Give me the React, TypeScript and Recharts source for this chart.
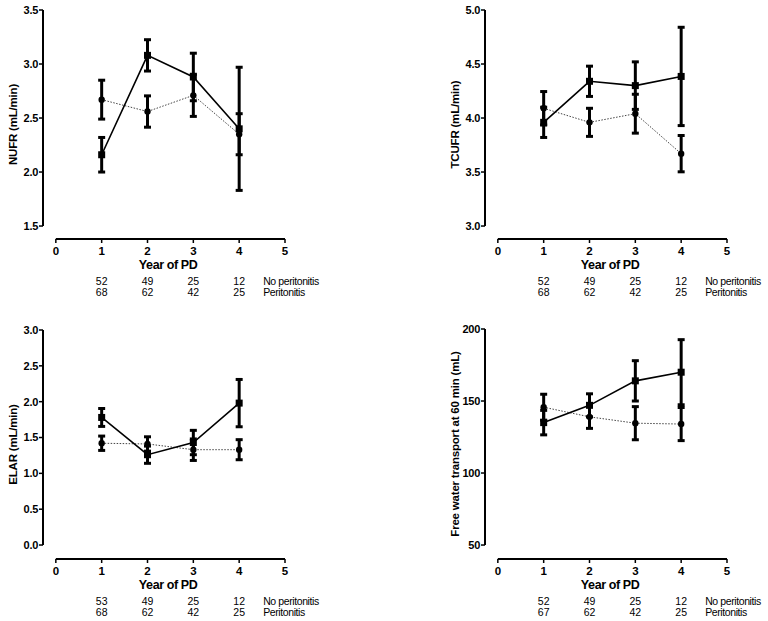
import { LineChart, Line, XAxis, YAxis, ErrorBar, ReferenceLine } from "recharts";

const FONT = "Liberation Sans, Arial, Helvetica, sans-serif";

// x axis: years, with a small gap left of 0 (offset axes)
const years = [1, 2, 3, 4];
const xTicks = [0, 1, 2, 3, 4, 5];
const X_MIN = -0.28;

// NUFR (mL/min)
const nufrSolid = [2.16, 3.08, 2.88, 2.4];
const nufrSolidErr = [0.16, 0.145, 0.22, 0.57];
const nufrDotted = [2.67, 2.56, 2.71, 2.35];
const nufrDottedErr = [0.18, 0.145, 0.195, 0.19];

// TCUFR (mL/min)
const tcufrSolid = [3.96, 4.34, 4.3, 4.385];
const tcufrSolidErr = [0.14, 0.14, 0.22, 0.455];
const tcufrDotted = [4.09, 3.96, 4.04, 3.67];
const tcufrDottedErr = [0.155, 0.13, 0.18, 0.168];

// ELAR (mL/min)
const elarSolid = [1.78, 1.26, 1.43, 1.98];
const elarSolidErr = [0.125, 0.12, 0.17, 0.33];
const elarDotted = [1.42, 1.41, 1.33, 1.33];
const elarDottedErr = [0.1, 0.1, 0.15, 0.14];

// Free water transport at 60 min (mL)
const fwtSolid = [135, 147, 164, 170];
const fwtSolidErr = [8.5, 8, 14, 22.6];
const fwtDotted = [145.7, 139, 134.6, 134];
const fwtDottedErr = [9, 8, 11.5, 11.5];

// patients at risk
const noPeritCounts = [52, 49, 25, 12];
const peritCounts = [68, 62, 42, 25];
const noPeritCountsElar = [53, 49, 25, 12];
const peritCountsFwt = [67, 62, 42, 25];

const squareDot = (p: any) => (
  <rect key={`s-${p.index}`} x={p.cx - 3.5} y={p.cy - 3.5} width={7} height={7} fill="#000" />
);
const circleDot = (p: any) => (
  <circle key={`c-${p.index}`} cx={p.cx} cy={p.cy} r={3.2} fill="#000" />
);

const renderXTick = (p: any, noPer: number[], per: number[]) => {
  const v = p.payload.value;
  const i = v - 1;
  const txt = { fontFamily: FONT, fill: "#000" };
  return (
    <g>
      <text x={p.x} y={p.y + 9.5} textAnchor="middle" fontSize={11.5} fontWeight="bold" {...txt}>
        {v}
      </text>
      {i >= 0 && i < 4 && (
        <>
          <text x={p.x} y={p.y + 40} textAnchor="middle" fontSize={10.5} {...txt}>
            {noPer[i]}
          </text>
          <text x={p.x} y={p.y + 51} textAnchor="middle" fontSize={10.5} {...txt}>
            {per[i]}
          </text>
        </>
      )}
      {v === 4 && (
        <>
          <text x={p.x + 24} y={p.y + 40} fontSize={10.5} letterSpacing={-0.4} {...txt}>
            No peritonitis
          </text>
          <text x={p.x + 24} y={p.y + 51} fontSize={10.5} letterSpacing={-0.4} {...txt}>
            Peritonitis
          </text>
        </>
      )}
    </g>
  );
};

interface PanelProps {
  title: string;
  solid: number[];
  solidErr: number[];
  dotted: number[];
  dottedErr: number[];
  yDomain: [number, number];
  yTicks: number[];
  decimals: number;
  noPer: number[];
  per: number[];
  width: number;
  height: number;
  margin: { top: number; right: number; bottom: number; left: number };
}

const Panel = (props: PanelProps) => {
  const { title, solid, solidErr, dotted, dottedErr, yDomain, yTicks, decimals, noPer, per } = props;
  const data = years.map((y, i) => ({
    year: y,
    s: solid[i],
    sErr: solidErr[i],
    d: dotted[i],
    dErr: dottedErr[i],
  }));

  return (
    <LineChart width={props.width} height={props.height} data={data} margin={props.margin} style={{ fontFamily: FONT }}>
      <XAxis
        dataKey="year"
        type="number"
        domain={[X_MIN, 5]}
        ticks={xTicks}
        interval={0}
        axisLine={false}
        tickLine={{ stroke: "#000", strokeWidth: 1.5 }}
        tickSize={4}
        height={50}
        tick={(p: any) => renderXTick(p, noPer, per)}
        label={(lp: any) => {
          const vb = lp.viewBox;
          const cx = vb.x + ((2.45 - X_MIN) / (5 - X_MIN)) * vb.width;
          return (
            <text x={cx} y={vb.y + 30} textAnchor="middle" fontSize={12.5} fontWeight="bold" letterSpacing={-0.4} fontFamily={FONT} fill="#000">
              Year of PD
            </text>
          );
        }}
      />
      <YAxis
        type="number"
        domain={yDomain}
        ticks={yTicks}
        interval={0}
        width={30}
        axisLine={false}
        tickLine={{ stroke: "#000", strokeWidth: 1.5 }}
        tickSize={4}
        tickMargin={1}
        tick={{ fill: "#000", fontSize: 11, fontWeight: "bold", fontFamily: FONT, letterSpacing: -0.3 }}
        tickFormatter={(v: number) => v.toFixed(decimals)}
        label={(lp: any) => {
          const vb = lp.viewBox;
          const cx = vb.x + vb.width - 30;
          const cy = vb.y + vb.height / 2;
          return (
            <text
              x={cx}
              y={cy}
              transform={`rotate(-90 ${cx} ${cy})`}
              textAnchor="middle"
              dominantBaseline="central"
              fontSize={11.5}
              fontWeight="bold"
              letterSpacing={-0.2}
              fontFamily={FONT}
              fill="#000"
            >
              {title}
            </text>
          );
        }}
      />

      {/* offset axis lines */}
      <ReferenceLine
        segment={[
          { x: X_MIN, y: yTicks[0] },
          { x: X_MIN, y: yTicks[yTicks.length - 1] },
        ]}
        stroke="#000"
        strokeWidth={2}
        ifOverflow="visible"
      />
      <ReferenceLine
        segment={[
          { x: 0, y: yDomain[0] },
          { x: 5, y: yDomain[0] },
        ]}
        stroke="#000"
        strokeWidth={2}
        ifOverflow="visible"
      />

      <Line
        dataKey="d"
        type="linear"
        stroke="#444"
        strokeWidth={1}
        strokeDasharray="1.5 1.5"
        dot={circleDot}
        activeDot={false}
        isAnimationActive={false}
      >
        <ErrorBar dataKey="dErr" width={3.5} strokeWidth={3} stroke="#000" direction="y" />
      </Line>
      <Line
        dataKey="s"
        type="linear"
        stroke="#000"
        strokeWidth={1.6}
        dot={squareDot}
        activeDot={false}
        isAnimationActive={false}
      >
        <ErrorBar dataKey="sErr" width={3.5} strokeWidth={3} stroke="#000" direction="y" />
      </Line>
    </LineChart>
  );
};

export default function App() {
  return (
    <div style={{ position: "absolute", left: 0, top: 0, width: 768, height: 621, background: "#fff" }}>
      <div style={{ position: "absolute", left: 0, top: 0 }}>
        <Panel
          title="NUFR (mL/min)"
          solid={nufrSolid}
          solidErr={nufrSolidErr}
          dotted={nufrDotted}
          dottedErr={nufrDottedErr}
          yDomain={[1.38, 3.5]}
          yTicks={[1.5, 2, 2.5, 3, 3.5]}
          decimals={1}
          noPer={noPeritCounts}
          per={peritCounts}
          width={380}
          height={300}
          margin={{ top: 10, right: 95, bottom: 11, left: 13 }}
        />
      </div>
      <div style={{ position: "absolute", left: 380, top: 0 }}>
        <Panel
          title="TCUFR (mL/min)"
          solid={tcufrSolid}
          solidErr={tcufrSolidErr}
          dotted={tcufrDotted}
          dottedErr={tcufrDottedErr}
          yDomain={[2.88, 5]}
          yTicks={[3, 3.5, 4, 4.5, 5]}
          decimals={1}
          noPer={noPeritCounts}
          per={peritCounts}
          width={388}
          height={300}
          margin={{ top: 10, right: 41, bottom: 11, left: 75 }}
        />
      </div>
      <div style={{ position: "absolute", left: 0, top: 310 }}>
        <Panel
          title="ELAR (mL/min)"
          solid={elarSolid}
          solidErr={elarSolidErr}
          dotted={elarDotted}
          dottedErr={elarDottedErr}
          yDomain={[-0.195, 3]}
          yTicks={[0, 0.5, 1, 1.5, 2, 2.5, 3]}
          decimals={1}
          noPer={noPeritCountsElar}
          per={peritCounts}
          width={380}
          height={311}
          margin={{ top: 20, right: 95, bottom: 12, left: 13 }}
        />
      </div>
      <div style={{ position: "absolute", left: 380, top: 310 }}>
        <Panel
          title="Free water transport at 60 min (mL)"
          solid={fwtSolid}
          solidErr={fwtSolidErr}
          dotted={fwtDotted}
          dottedErr={fwtDottedErr}
          yDomain={[40.3, 200]}
          yTicks={[50, 100, 150, 200]}
          decimals={0}
          noPer={noPeritCounts}
          per={peritCountsFwt}
          width={388}
          height={311}
          margin={{ top: 19, right: 41, bottom: 12, left: 75 }}
        />
      </div>
    </div>
  );
}
